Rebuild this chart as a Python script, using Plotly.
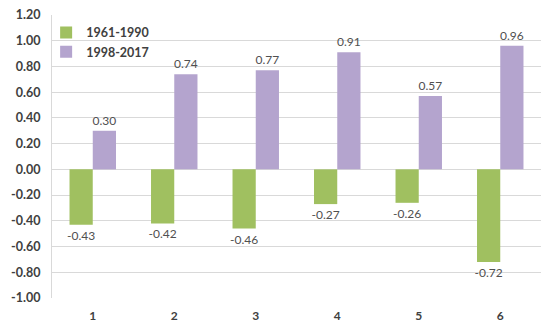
import plotly.graph_objects as go

categories = ["1", "2", "3", "4", "5", "6"]
series_1961_1990 = [-0.43, -0.42, -0.46, -0.27, -0.26, -0.72]
series_1998_2017 = [0.30, 0.74, 0.77, 0.91, 0.57, 0.96]
y_ticks = [1.2, 1.0, 0.8, 0.6, 0.4, 0.2, 0.0, -0.2, -0.4, -0.6, -0.8, -1.0]

FONT = "Lato, 'Open Sans', sans-serif"

fig = go.Figure()
fig.add_trace(go.Bar(
    x=categories, y=series_1961_1990, name="1961-1990",
    marker=dict(color="#A0C060", line=dict(width=0)),
    texttemplate="%{y:.2f}", textposition="outside", constraintext="none",
    textfont=dict(family=FONT, size=12, color="#505050"),
    cliponaxis=False,
))
fig.add_trace(go.Bar(
    x=categories, y=series_1998_2017, name="1998-2017",
    marker=dict(color="#B4A4CE", line=dict(width=0)),
    texttemplate="%{y:.2f}", textposition="outside", constraintext="none",
    textfont=dict(family=FONT, size=12, color="#505050"),
    cliponaxis=False,
))

fig.update_layout(
    width=541, height=322,
    margin=dict(l=52, r=0, t=15, b=24, autoexpand=False),
    paper_bgcolor="white", plot_bgcolor="white",
    barmode="group", bargap=0.43, bargroupgap=0,
    showlegend=True,
    legend=dict(
        x=-0.012, y=0.99, xanchor="left", yanchor="top",
        bgcolor="rgba(0,0,0,0)",
        font=dict(family=FONT, size=12.5, color="#404040", weight="bold"),
        itemwidth=30,
    ),
    font=dict(family=FONT, size=12, color="#404040"),
    xaxis=dict(
        showgrid=False, showline=False, zeroline=False,
        tickfont=dict(family=FONT, size=12, color="#404040", weight="bold"),
        ticklabelstandoff=9,
    ),
    yaxis=dict(
        range=[-1.0, 1.2],
        tickvals=y_ticks,
        ticktext=[f"{v:.2f}" for v in y_ticks],
        showgrid=True, gridcolor="#D9D9D9", gridwidth=1,
        zeroline=True, zerolinecolor="#D9D9D9", zerolinewidth=1,
        showline=True, linecolor="#D9D9D9", linewidth=1,
        ticks="", ticklen=0,
        tickfont=dict(family=FONT, size=12.5, color="#404040", weight="bold"),
        ticklabelstandoff=8,
    ),
)

fig.write_html("out.html", config={"displayModeBar": False},
               post_script="document.body.style.margin='0';")
